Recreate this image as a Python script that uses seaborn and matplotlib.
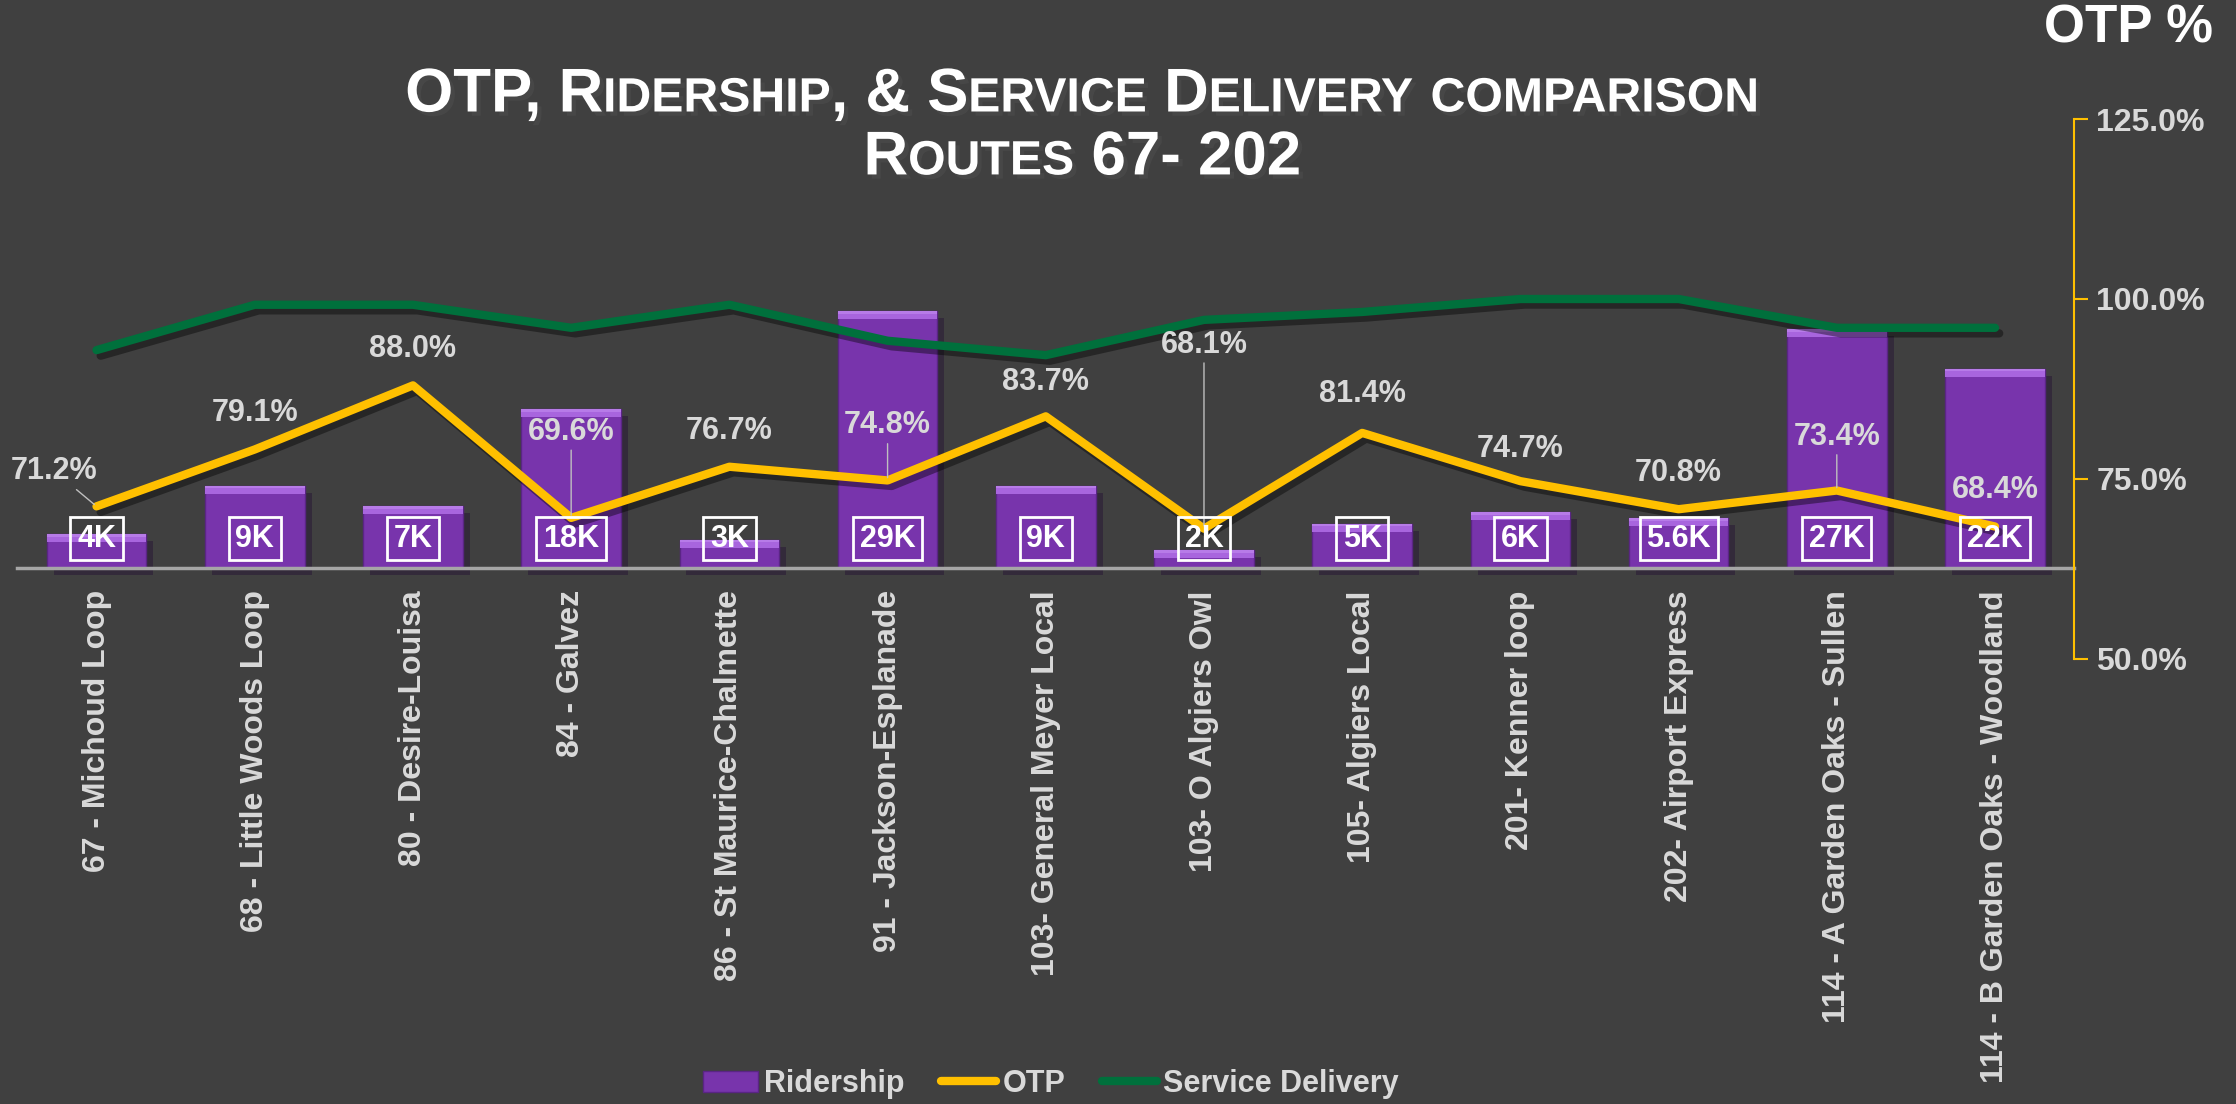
import numpy as np
import matplotlib
matplotlib.use("Agg")
import matplotlib.pyplot as plt
import matplotlib.patheffects as pe
from matplotlib.patches import Patch
from matplotlib.lines import Line2D
from matplotlib.ticker import PercentFormatter
import seaborn as sns

# Chart data
routes = ['67 - Michoud Loop', '68 - Little Woods Loop', '80 - Desire-Louisa', '84 - Galvez',
          '86 - St Maurice-Chalmette', '91 - Jackson-Esplanade', '103- General Meyer Local',
          '103- O Algiers Owl', '105- Algiers Local', '201- Kenner loop', '202- Airport Express',
          '114 - A Garden Oaks - Sullen', '114 - B Garden Oaks - Woodland']
ridership_k = [3.8, 9.3, 7.0, 17.9, 3.2, 29.0, 9.3, 2.0, 5.0, 6.3, 5.6, 27.0, 22.5]
ridership_labels = ['4K', '9K', '7K', '18K', '3K', '29K', '9K', '2K', '5K', '6K', '5.6K', '27K', '22K']
otp = [71.2, 79.1, 88.0, 69.6, 76.7, 74.8, 83.7, 68.1, 81.4, 74.7, 70.8, 73.4, 68.4]
service_delivery = [92.9, 99.2, 99.2, 96.0, 99.2, 94.2, 92.2, 97.1, 98.2, 100.0, 100.0, 96.0, 96.0]

# label placement (pixels from the OTP point) and which labels get a leader line
otp_label_offsets = [(-42, 35), (0, 36), (0, 36), (0, 86), (0, 36), (0, 55), (0, 34),
                     (0, 184), (0, 39), (0, 32), (0, 36), (0, 54), (0, 37)]
otp_leaders = [True, False, False, True, False, True, False, True, False, False, False, True, False]

BG = '#404040'
PURPLE = '#7834AC'
PURPLE_TOP = '#A865DE'
YELLOW = '#FFC000'
GREEN = '#00703C'
LIGHT = '#D9D9D9'

sns.set_style('dark', {'axes.facecolor': BG, 'figure.facecolor': BG})
plt.rcParams['font.family'] = ['Liberation Sans', 'DejaVu Sans']
plt.rcParams['font.weight'] = 'bold'

fig = plt.figure(figsize=(22.36, 11.04), dpi=100)
fig.patch.set_facecolor(BG)
ax = fig.add_axes([0.0078, 0.4031, 0.9198, 0.4891])
ax.set_facecolor(BG)

pos = np.arange(len(routes))

# Ridership bars
sns.barplot(x=pos, y=ridership_k, ax=ax, color=PURPLE, saturation=1, width=0.63,
            native_scale=True, edgecolor='#5A2585', linewidth=1)
for bar in ax.patches:
    bar.set_path_effects([pe.SimplePatchShadow(offset=(5, -5), alpha=0.45), pe.Normal()])
bevel = 0.9
ax.bar(pos, [bevel] * len(pos), bottom=np.array(ridership_k) - bevel, width=0.63,
       color=PURPLE_TOP, linewidth=0)
ax.bar(pos, [bevel * 0.35] * len(pos), bottom=np.array(ridership_k) - bevel * 0.35, width=0.63,
       color='#B77BE8', linewidth=0)

ax.set_xlim(-0.5, len(routes) - 0.5)
ax.set_ylim(-10.27, 50.68)
ax.yaxis.set_visible(False)
for s in ['top', 'right', 'left']:
    ax.spines[s].set_visible(False)
ax.spines['bottom'].set_position(('data', 0))
ax.spines['bottom'].set_color('#A6A6A6')
ax.spines['bottom'].set_linewidth(2.5)
ax.set_xticks(pos)
ax.set_xticklabels(routes, rotation=90, ha='center', va='top', fontsize=23,
                   color=LIGHT, fontweight='bold')
ax.tick_params(axis='x', length=0, pad=16)
ax.set_xlabel('')
ax.grid(False)

# OTP and service delivery lines
ax2 = ax.twinx()
line_fx = [pe.SimpleLineShadow(offset=(3, -4), alpha=0.4), pe.Normal()]
sns.lineplot(x=pos, y=service_delivery, ax=ax2, color=GREEN, lw=6, sort=False,
             legend=False, path_effects=line_fx, solid_capstyle='round')
sns.lineplot(x=pos, y=otp, ax=ax2, color=YELLOW, lw=6, sort=False,
             legend=False, path_effects=line_fx, solid_capstyle='round')
ax2.set_ylim(50, 125)
ax2.set_yticks([50, 75, 100, 125])
ax2.yaxis.set_major_formatter(PercentFormatter(100, decimals=1))
ax2.tick_params(axis='y', colors=YELLOW, length=10, width=1.5, labelcolor=LIGHT,
                labelsize=23, pad=6, direction='out')
for lab in ax2.get_yticklabels():
    lab.set_fontweight('bold')
for s in ['top', 'left', 'bottom']:
    ax2.spines[s].set_visible(False)
ax2.spines['right'].set_color(YELLOW)
ax2.spines['right'].set_linewidth(1.5)
ax2.set_ylabel('')
ax2.grid(False)

# ridership value boxes (drawn in bar data coords, above the lines)
for i, lab in enumerate(ridership_labels):
    ax2.text(pos[i], 3.3, lab, transform=ax.transData, ha='center', va='center',
             fontsize=22, color='white', fontweight='bold', zorder=5,
             bbox=dict(boxstyle='square,pad=0.22', fc='none', ec='white', lw=2))

for i, v in enumerate(otp):
    arrow = dict(arrowstyle='-', color='#BFBFBF', lw=1, shrinkA=0, shrinkB=2) if otp_leaders[i] else None
    ax2.annotate(f'{v:.1f}%', xy=(pos[i], v), xytext=otp_label_offsets[i],
                 textcoords='offset pixels', ha='center', va='center', fontsize=22,
                 color=LIGHT, fontweight='bold', arrowprops=arrow)


# Title in small caps
def small_caps(text, xc, y, size, ratio=0.78, **kw):
    renderer = fig.canvas.get_renderer()
    runs = []
    for ch in text:
        fs = size * ratio if ch.islower() else size
        if runs and runs[-1][1] == fs:
            runs[-1][0] += ch.upper()
        else:
            runs.append([ch.upper(), fs])
    widths = []
    for s, fs in runs:
        t1 = fig.text(0, 0, '|' + s + '|', fontsize=fs, **kw)
        t2 = fig.text(0, 0, '||', fontsize=fs, **kw)
        widths.append(t1.get_window_extent(renderer).width - t2.get_window_extent(renderer).width)
        t1.remove()
        t2.remove()
    fig_w = fig.get_size_inches()[0] * fig.dpi
    x0 = xc * fig_w - sum(widths) / 2
    for (s, fs), w in zip(runs, widths):
        fig.text(x0 / fig_w, y, s, fontsize=fs, ha='left', va='baseline', **kw)
        x0 += w


title_fx = [pe.SimplePatchShadow(offset=(3, -3), alpha=0.6), pe.Normal()]
small_caps('OTP, Ridership, & Service Delivery comparison', 0.484, 0.899, 44.5,
           color='white', fontweight='bold', path_effects=title_fx)
small_caps('Routes 67- 202', 0.484, 0.842, 44.5,
           color='white', fontweight='bold', path_effects=title_fx)

fig.text(0.9517, 0.974, 'OTP %', ha='center', va='center', fontsize=38,
         color='white', fontweight='bold')

handles = [Patch(facecolor=PURPLE, edgecolor='#5A2585', label='Ridership'),
           Line2D([0], [0], color=YELLOW, lw=6, solid_capstyle='round', label='OTP'),
           Line2D([0], [0], color=GREEN, lw=6, solid_capstyle='round', label='Service Delivery')]
fig.legend(handles=handles, loc='center', bbox_to_anchor=(0.470, 0.018), ncol=3,
           frameon=False, labelcolor=LIGHT, handlelength=1.8,
           handletextpad=0.2, columnspacing=1.2, prop={'weight': 'bold', 'size': 22})

fig.savefig('out.png', dpi=100, facecolor=BG)
